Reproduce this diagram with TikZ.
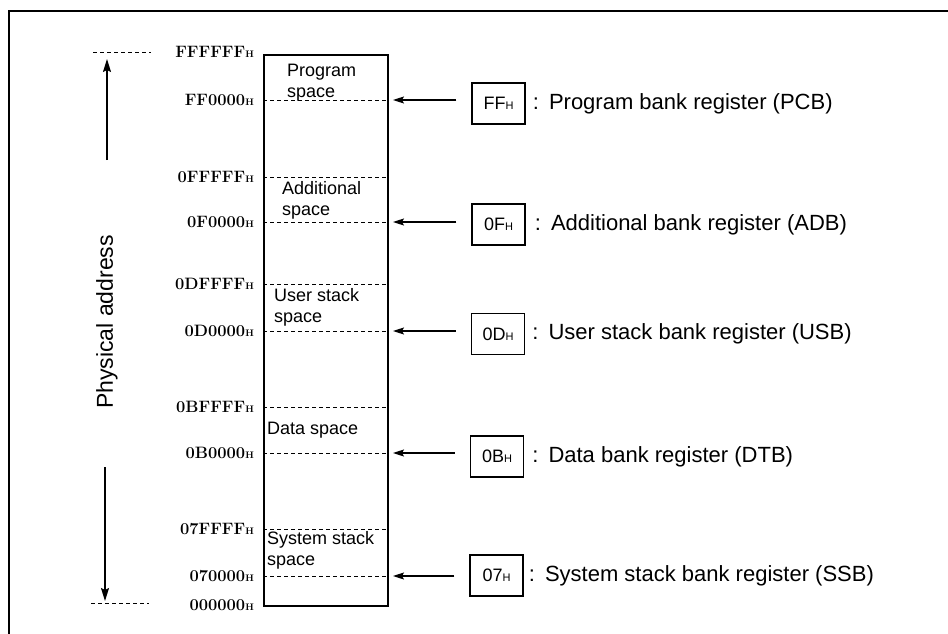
\documentclass[tikz,border=0pt]{standalone}
\usepackage{fontspec}
\newfontfamily\arial{Liberation Sans}
\usetikzlibrary{arrows.meta}
\begin{document}
\begin{tikzpicture}[x=1pt,y=-1pt,
  frame/.style={line width=2pt},
  membox/.style={draw, line width=1.8pt, inner sep=0pt, minimum width=124pt, minimum height=551pt, anchor=north west},
  dline/.style={line width=0.9pt, dash pattern=on 3.5pt off 3.5pt},
  addr/.style={anchor=east, inner sep=0pt, font=\fontsize{16.5}{16.5}\selectfont\bfseries},
  spacetxt/.style={anchor=base west, inner sep=0pt, align=left, font=\arial\fontsize{18}{21}\selectfont},
  regbox/.style={draw, line width=1.4pt, minimum width=53pt, minimum height=41pt, inner sep=0pt, font=\arial\fontsize{18}{18}\selectfont},
  regtxt/.style={anchor=west, inner sep=0pt, font=\arial\fontsize{22}{22}\selectfont},
  arr/.style={line width=1.2pt, -{Stealth[length=11pt,width=7pt,inset=2pt]}},
  axarr/.style={line width=1.5pt, -{Stealth[length=13pt,width=8pt,inset=2pt]}}
]
\useasboundingbox (0,0) rectangle (948,634);
\newcommand{\Hs}{{\fontsize{9.5}{9.5}\selectfont H}}
\newcommand{\Hr}{{\fontsize{11}{11}\selectfont H}}
% outer frame (top and left edges)
\draw[frame] (9,634) -- (9,11) -- (948,11);

% memory box
\node[membox] (mem) at (263,54) {};

% boundaries
\foreach \n/\y in {a/100,b/177,c/222,d/284,e/331,f/407,g/453,h/529,i/576}{
  \coordinate (L\n) at (263,\y);
  \coordinate (R\n) at (387,\y);
  \draw[dline] (L\n) -- (R\n);
}

% address labels
\node[addr] (aFFFFFF) at (254,52) {FFFFFF\Hs};
\node[addr] (aFF0000) at (254,100) {FF0000\Hs};
\node[addr] (a0FFFFF) at (254,177) {0FFFFF\Hs};
\node[addr] (a0F0000) at (254,222) {0F0000\Hs};
\node[addr] (a0DFFFF) at (254,284) {0DFFFF\Hs};
\node[addr] (a0D0000) at (254,331) {0D0000\Hs};
\node[addr] (a0BFFFF) at (254,407) {0BFFFF\Hs};
\node[addr] (a0B0000) at (254,453) {0B0000\Hs};
\node[addr] (a07FFFF) at (254,529) {07FFFF\Hs};
\node[addr] (a070000) at (254,576) {070000\Hs};
\node[addr] (a000000) at (254,605) {000000\Hs};

% space labels (anchor = baseline of last line)
\node[spacetxt] (sProg) at (287,98) {Program\\space};
\node[spacetxt] (sAdd) at (282,215) {Additional\\space};
\node[spacetxt] (sUser) at (274,322) {User stack\\space};
\node[spacetxt] (sData) at (267,434) {Data space};
\node[spacetxt] (sSys) at (267,565) {System stack\\space};

% physical address axis
\coordinate (axT1) at (93,52); \coordinate (axT2) at (151,52);
\coordinate (axB1) at (91,603); \coordinate (axB2) at (149,603);
\draw[dline] (axT1) -- (axT2);
\draw[dline] (axB1) -- (axB2);
\coordinate (upS) at (107,160); \coordinate (upE) at (107,59);
\coordinate (dnS) at (105,467); \coordinate (dnE) at (105,601);
\draw[axarr] (upS) -- (upE);
\draw[axarr] (dnS) -- (dnE);
\node[rotate=90, inner sep=0pt, font=\arial\fontsize{23}{23}\selectfont] (phys) at (107,322) {Physical address};

% registers
\node[regbox] (rPCB) at (498.5,103.5) {FF\Hr};
\node[regbox] (rADB) at (498.5,224.5) {0F\Hr};
\node[regbox] (rUSB) at (498,334) {0D\Hr};
\node[regbox] (rDTB) at (497,456.5) {0B\Hr};
\node[regbox] (rSSB) at (496.5,575.5) {07\Hr};

\node[regtxt] (tPCB) at ([xshift=7pt]rPCB.east) {:\hspace{10pt}Program bank register (PCB)};
\node[regtxt] (tADB) at ([xshift=9pt]rADB.east) {:\hspace{10pt}Additional bank register (ADB)};
\node[regtxt] (tUSB) at ([xshift=7pt]rUSB.east) {:\hspace{10pt}User stack bank register (USB)};
\node[regtxt] (tDTB) at ([xshift=8pt]rDTB.east) {:\hspace{10pt}Data bank register (DTB)};
\node[regtxt] (tSSB) at ([xshift=5pt]rSSB.east) {:\hspace{10pt}System stack bank register (SSB)};

% arrows
\draw[arr] ([xshift=-15pt]rPCB.west |- Ra) -- ([xshift=6pt]Ra);
\draw[arr] ([xshift=-15pt]rADB.west |- Rc) -- ([xshift=6pt]Rc);
\draw[arr] ([xshift=-15pt]rUSB.west |- Re) -- ([xshift=6pt]Re);
\draw[arr] ([xshift=-15pt]rDTB.west |- Rg) -- ([xshift=6pt]Rg);
\draw[arr] ([xshift=-15pt]rSSB.west |- Ri) -- ([xshift=6pt]Ri);
\end{tikzpicture}
\end{document}
